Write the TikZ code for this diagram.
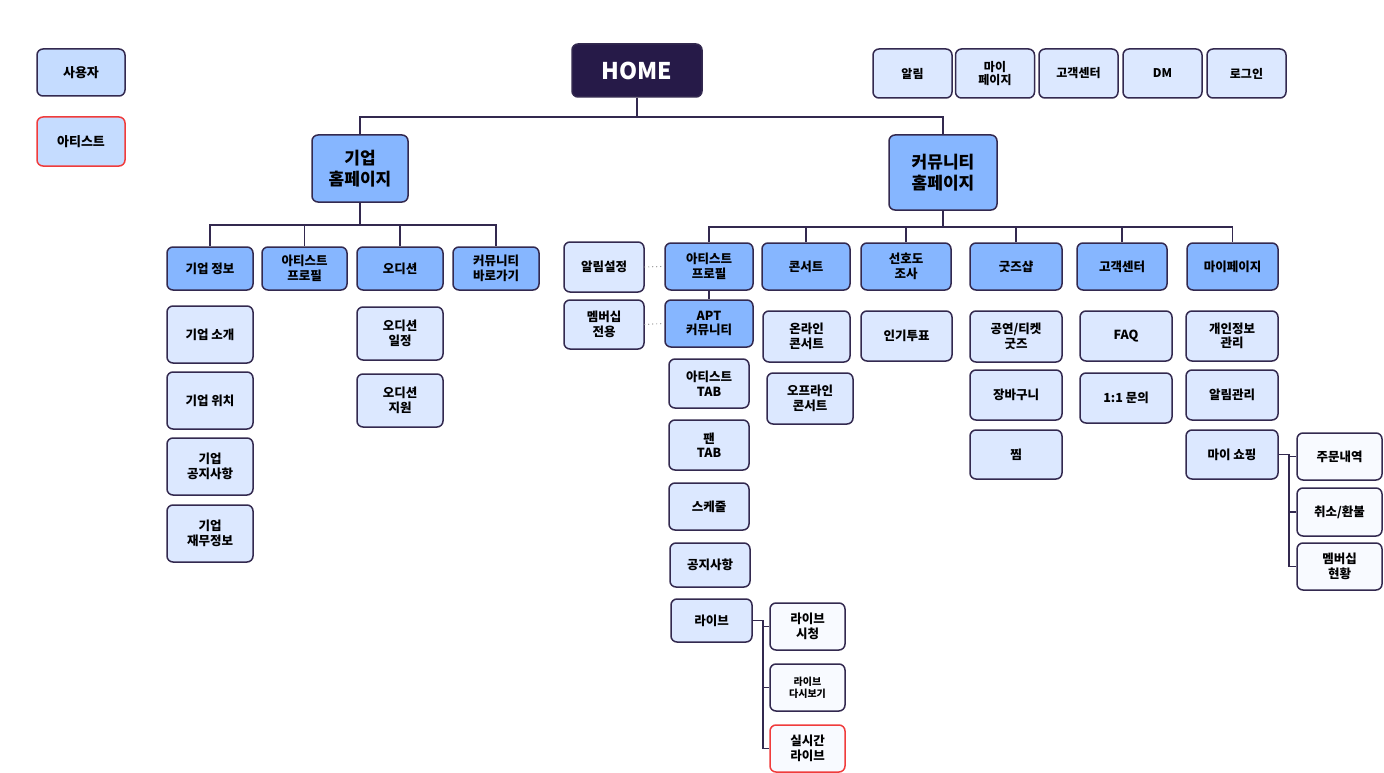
\documentclass[tikz,border=0pt]{standalone}
\usepackage{fontspec}
\setmainfont{Noto Sans CJK KR}
\usepackage{xcolor}
\usepackage{tikz}
\usetikzlibrary{positioning}

\definecolor{edgec}{HTML}{33294F}
\definecolor{homec}{HTML}{261A48}
\definecolor{midblue}{HTML}{86B6FF}
\definecolor{paleblue}{HTML}{DCE8FF}
\definecolor{legendc}{HTML}{C5DCFF}
\definecolor{whiteblue}{HTML}{F8FAFF}
\definecolor{artred}{HTML}{F03C3C}

\begin{document}
\begin{tikzpicture}[x=1pt, y=-1pt,
    box/.style={draw=edgec, line width=1.5pt, rounded corners=6pt, align=center,
        inner sep=1pt, font=\bfseries\fontsize{12.5}{14.5}\selectfont},
    sz/.style 2 args={minimum width=#1, minimum height=#2},
    mainbox/.style={box, fill=midblue},
    subbox/.style={box, fill=paleblue},
    leafbox/.style={box, fill=whiteblue},
    artist/.style={draw=artred},
    topmenu/.style={subbox, sz={79pt}{49pt}, font=\bfseries\fontsize{12}{13.5}\selectfont},
    link/.style={draw=edgec, line width=1.6pt}]
\useasboundingbox (0,0) rectangle (1384,773);

% legend
\node[box, fill=legendc, sz={88pt}{47pt}, font=\bfseries\fontsize{13}{15}\selectfont] (user) at (81,72.5) {사용자};
\node[box, fill=legendc, artist, sz={88pt}{49pt}, font=\bfseries\fontsize{13}{15}\selectfont] (artl) at (81,141.5) {아티스트};

% home and top menu
\node[box, fill=homec, text=white, sz={130pt}{53pt}, font=\bfseries\fontsize{23}{27}\selectfont] (home) at (637,70.5) {HOME};
\node[topmenu] (tm1) at (912.5,73.5) {알림};
\node[topmenu] (tm2) at (995,73.5) {마이\\페이지};
\node[topmenu] (tm3) at (1078.5,73.5) {고객센터};
\node[topmenu] (tm4) at (1162.5,73.5) {DM};
\node[topmenu] (tm5) at (1246.5,73.5) {로그인};

% two homepages
\node[mainbox, sz={96pt}{67pt}, font=\bfseries\fontsize{17}{21}\selectfont] (corp) at (360,168.5) {기업\\홈페이지};
\node[mainbox, sz={108pt}{75pt}, font=\bfseries\fontsize{17}{21}\selectfont] (comm) at (943,172.5) {커뮤니티\\홈페이지};

% corporate branch
\node[mainbox, sz={86pt}{43pt}] (cinfo) at (210,268.5) {기업 정보};
\node[mainbox, sz={85pt}{43pt}] (cprof) at (304.5,268.5) {아티스트\\프로필};
\node[mainbox, sz={86pt}{43pt}] (audi) at (400,268.5) {오디션};
\node[mainbox, sz={86pt}{43pt}] (clink) at (496,268.5) {커뮤니티\\바로가기};

\node[subbox, sz={86pt}{57pt}] (cintro) at (210,334.5) {기업 소개};
\node[subbox, sz={86pt}{57pt}] (cloc) at (210,400.5) {기업 위치};
\node[subbox, sz={86pt}{57pt}] (cnote) at (210,466.5) {기업\\공지사항};
\node[subbox, sz={86pt}{57pt}] (cfin) at (210,533.5) {기업\\재무정보};

\node[subbox, sz={86pt}{53pt}] (asched) at (400,333.5) {오디션\\일정};
\node[subbox, sz={86pt}{53pt}] (aapply) at (400,400.5) {오디션\\지원};

% community branch
\node[mainbox, sz={88pt}{47pt}] (aprof) at (709,266.5) {아티스트\\프로필};
\node[mainbox, sz={88pt}{47pt}] (concert) at (806,266.5) {콘서트};
\node[mainbox, sz={90pt}{47pt}] (pref) at (906,266.5) {선호도\\조사};
\node[mainbox, sz={92pt}{47pt}] (goods) at (1016,266.5) {굿즈샵};
\node[mainbox, sz={90pt}{47pt}] (help) at (1122,266.5) {고객센터};
\node[mainbox, sz={91pt}{47pt}] (mypage) at (1232.5,266.5) {마이페이지};

\node[subbox, sz={80pt}{50pt}] (alarm) at (604,267) {알림설정};
\node[subbox, sz={80pt}{49pt}] (member) at (604,324.5) {멤버십\\전용};
\node[mainbox, sz={88pt}{47pt}] (apt) at (709,323.5) {APT\\커뮤니티};

\node[subbox, sz={80pt}{49pt}] (atab) at (709,383.5) {아티스트\\TAB};
\node[subbox, sz={80pt}{50pt}] (ftab) at (709,445) {팬\\TAB};
\node[subbox, sz={80pt}{47pt}] (sched) at (709,506.5) {스케줄};
\node[subbox, sz={80pt}{44pt}] (notice) at (710,565) {공지사항};
\node[subbox, sz={81pt}{43pt}] (live) at (711.5,620.5) {라이브};

\node[leafbox, sz={75pt}{47pt}] (lwatch) at (807.5,626.5) {라이브\\시청};
\node[leafbox, sz={75pt}{47pt}, font=\bfseries\fontsize{10}{12}\selectfont] (lreplay) at (807.5,687.5) {라이브\\다시보기};
\node[leafbox, artist, sz={75pt}{47pt}] (lreal) at (807.5,748.5) {실시간\\라이브};

\node[subbox, sz={87pt}{51pt}] (online) at (806.5,336.5) {온라인\\콘서트};
\node[subbox, sz={86pt}{51pt}] (offline) at (810,398.5) {오프라인\\콘서트};

\node[subbox, sz={91pt}{50pt}] (vote) at (906.5,336) {인기투표};

\node[subbox, sz={92pt}{51pt}] (ticket) at (1016,336.5) {공연/티켓\\굿즈};
\node[subbox, sz={92pt}{50pt}] (cart) at (1016,395) {장바구니};
\node[subbox, sz={92pt}{49pt}] (wish) at (1016,454.5) {찜};

\node[subbox, sz={92pt}{50pt}] (faq) at (1126,336) {FAQ};
\node[subbox, sz={92pt}{50pt}] (qna) at (1126,398) {1:1 문의};

\node[subbox, sz={92pt}{50pt}] (privacy) at (1232,336) {개인정보\\관리};
\node[subbox, sz={92pt}{50pt}] (notify) at (1232,395) {알림관리};
\node[subbox, sz={92pt}{49pt}] (shop) at (1232,454.5) {마이 쇼핑};

\node[leafbox, sz={85pt}{47pt}] (order) at (1339.5,456.5) {주문내역};
\node[leafbox, sz={85pt}{48pt}] (refund) at (1339.5,512) {취소/환불};
\node[leafbox, sz={85pt}{47pt}] (mstat) at (1339.5,566.5) {멤버십\\현황};

% connectors
\draw[link] (home.south) -- ++(0,19) -| (corp.north);
\draw[link] (home.south) -- ++(0,19) -| (comm.north);
\foreach \n in {cinfo,cprof,audi,clink}
    \draw[link] (corp.south) -- ++(0,22) -| (\n.north);
\foreach \n in {aprof,concert,pref,goods,help,mypage}
    \draw[link] (comm.south) -- ++(0,16) -| (\n.north);
\draw[link] (aprof.south) -- (apt.north);
\draw[draw=gray, line width=1.2pt, line cap=round, dash pattern=on 0pt off 4pt] (alarm.east) -- (aprof.west);
\draw[draw=gray, line width=1.2pt, line cap=round, dash pattern=on 0pt off 4pt] (member.east) -- (apt.west);
\foreach \n in {lwatch,lreplay,lreal}
    \draw[link] (live.east) -- ++(10,0) |- (\n.west);
\foreach \n in {order,refund,mstat}
    \draw[link] (shop.east) -- ++(10,0) |- (\n.west);
\end{tikzpicture}
\end{document}
